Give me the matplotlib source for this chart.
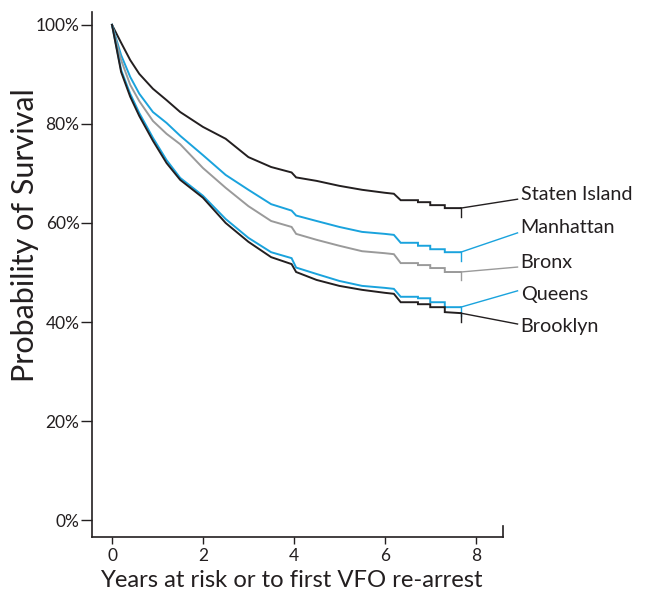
import numpy as np
import matplotlib
matplotlib.use("Agg")
import matplotlib.pyplot as plt

plt.rcParams["font.family"] = ["Lato", "DejaVu Sans"]

# === Data ===
boroughs = ["Staten Island", "Manhattan", "Bronx", "Queens", "Brooklyn"]

years = [0, 0.2, 0.4, 0.6, 0.9, 1.2, 1.5, 2.0, 2.5, 3.0, 3.5, 3.95, 4.05, 4.5, 5.0,
         5.5, 6.0, 6.2, 6.35, 6.73, 6.73, 7.0, 7.0, 7.32, 7.32, 7.67]

staten_island = [100, 96.4, 92.9, 90.1, 87.1, 84.8, 82.4, 79.4, 77.0, 73.3, 71.3, 70.2, 69.2,
                 68.5, 67.5, 66.7, 66.1, 65.9, 64.6, 64.6, 64.2, 64.2, 63.6, 63.6, 63.0, 63.0]
manhattan = [100, 93.9, 89.5, 86.1, 82.4, 80.2, 77.6, 73.7, 69.7, 66.7, 63.8, 62.5, 61.5,
             60.4, 59.2, 58.2, 57.8, 57.6, 56.0, 56.0, 55.4, 55.4, 54.7, 54.7, 54.1, 54.1]
bronx = [100, 92.9, 87.9, 84.6, 80.6, 78.0, 75.9, 71.1, 67.1, 63.4, 60.4, 59.2, 57.8,
         56.6, 55.4, 54.3, 53.9, 53.7, 51.9, 51.9, 51.5, 51.5, 50.9, 50.9, 50.1, 50.1]
queens = [100, 90.9, 86.1, 82.2, 77.2, 72.7, 69.1, 65.5, 60.8, 57.0, 54.1, 52.9, 51.0,
          49.7, 48.3, 47.3, 46.9, 46.7, 45.1, 45.1, 44.8, 44.8, 44.0, 44.0, 43.0, 43.0]
brooklyn = [100, 90.5, 85.5, 81.6, 76.6, 72.1, 68.7, 65.1, 60.0, 56.2, 53.1, 51.7, 50.1,
            48.5, 47.3, 46.5, 45.9, 45.7, 44.0, 44.0, 43.6, 43.6, 43.0, 43.0, 42.0, 41.8]

series = [staten_island, manhattan, bronx, queens, brooklyn]
colors = ["#231f20", "#1aa3dd", "#9a9a9a", "#1aa3dd", "#231f20"]

# label placement (layout only)
label_y = [65.7, 59.0, 52.1, 45.5, 39.0]
leader_y = [64.8, 58.0, 51.1, 46.3, 39.6]

# === Plot ===
fig = plt.figure(figsize=(6.47, 5.96), dpi=100)
ax = fig.add_axes([0.1422, 0.0990, 0.6352, 0.8809])

for name, vals, col, ly, lly in zip(boroughs, series, colors, label_y, leader_y):
    ax.plot(years, vals, color=col, lw=1.4, solid_joinstyle="miter")
    # censor tick at the end
    ax.plot([years[-1], years[-1]], [vals[-1], vals[-1] - 1.7], color=col, lw=1.0)
    # leader line + label
    ax.plot([years[-1], 8.92], [vals[-1], lly], color=col, lw=1.0, clip_on=False)
    ax.text(8.99, ly, name, color="#231f20", fontsize=14.2, va="center", ha="left",
            clip_on=False)

ax.set_xlim(-0.44, 8.6)
ax.set_ylim(-3.4, 102.6)
ax.set_xticks([0, 2, 4, 6, 8])
ax.set_yticks([0, 20, 40, 60, 80, 100])
ax.set_yticklabels([f"{v}%" for v in [0, 20, 40, 60, 80, 100]])

for s in ["top", "right"]:
    ax.spines[s].set_visible(False)
for s in ["left", "bottom"]:
    ax.spines[s].set_color("#231f20")
    ax.spines[s].set_linewidth(1.2)

# small end mark at the right end of the x axis
ax.plot([1, 1], [0, 0.02], transform=ax.transAxes, color="#231f20", lw=1.2, clip_on=False)

ax.tick_params(axis="y", direction="out", length=8, width=1.0, pad=1, labelsize=12.5,
               colors="#231f20")
ax.tick_params(axis="x", direction="out", length=5, width=1.0, pad=3, labelsize=12.5,
               colors="#231f20")

ax.set_xlabel("Years at risk or to first VFO re-arrest", fontsize=17.2, color="#231f20")
ax.set_ylabel("Probability of Survival", fontsize=22, color="#231f20")
ax.xaxis.set_label_coords(0.484, -0.063)
ax.yaxis.set_label_coords(-0.128, 0.575)

fig.savefig("out.png", dpi=100)
